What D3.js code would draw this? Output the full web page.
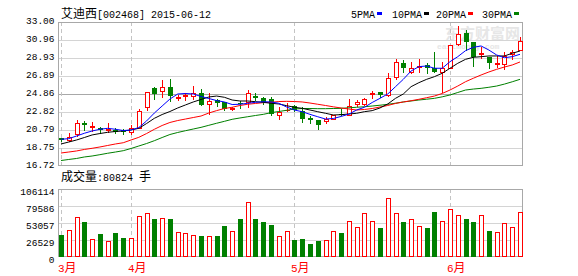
<!DOCTYPE html>
<html>
<head>
<meta charset="utf-8">
<script src="https://cdn.jsdelivr.net/npm/d3@7"></script>
<style>
  body { margin: 0; background: #fff; }
  svg text { font-family: "Liberation Mono", "DejaVu Sans Mono", monospace; }
  .cjk { font-family: "Noto Sans CJK SC", sans-serif; }
</style>
</head>
<body>
<div id="chart"></div>
<script>
// daily candles, 2015-03-19 .. 2015-06-12
var opens  = [19.85,19.66,20.30,21.62,21.10,20.98,20.75,20.84,20.79,20.53,21.05,23.36,25.50,25.20,25.62,24.40,24.60,24.67,25.00,23.70,24.22,23.92,23.17,23.85,23.90,24.67,24.37,24.30,22.49,23.00,23.50,22.94,22.20,21.92,21.84,22.07,22.60,22.49,23.75,23.73,24.90,25.10,24.75,26.75,28.33,27.31,27.90,28.14,27.77,27.31,27.83,30.48,31.72,30.74,29.35,29.08,28.28,28.22,29.38,29.83];
var highs  = [19.90,20.42,21.89,21.77,21.69,21.16,21.55,21.00,20.90,21.36,23.13,25.10,25.68,26.44,26.56,24.75,24.95,25.80,25.42,24.94,24.30,24.00,23.39,24.07,25.30,24.97,24.55,24.50,23.40,23.80,23.60,23.42,22.37,21.92,22.30,22.50,23.20,24.26,24.20,24.40,25.23,25.10,27.20,28.82,28.70,28.51,28.78,28.33,29.64,28.50,30.45,32.55,32.10,30.74,30.21,29.08,29.19,29.64,29.83,31.34];
var lows   = [19.50,19.55,20.15,20.79,20.71,20.42,20.53,20.40,20.30,20.30,20.98,23.05,24.33,24.55,24.10,24.15,24.20,24.26,23.65,22.63,23.50,23.05,23.02,23.31,23.40,24.18,23.70,22.50,22.00,22.90,22.95,21.73,21.62,20.94,21.55,22.05,22.45,22.45,23.50,23.60,24.37,24.55,24.67,26.52,27.35,27.20,27.38,27.27,27.30,25.12,27.75,30.40,29.83,28.06,28.90,27.77,27.91,27.69,28.78,29.83];
var closes = [19.62,20.03,21.55,21.36,21.20,20.76,20.85,20.54,20.57,20.98,22.94,25.05,24.83,25.68,24.60,24.50,24.70,24.97,23.65,24.03,23.81,23.20,23.27,23.80,24.95,24.37,23.92,22.65,22.86,23.10,23.05,22.07,21.89,21.32,22.07,22.49,22.55,23.54,23.92,24.29,25.00,24.80,26.63,28.44,27.83,27.76,28.00,27.77,27.31,27.77,30.40,31.61,30.77,29.08,29.45,28.33,28.38,29.19,29.64,30.82];
var volumes = [34500,42340,62200,54890,27700,36070,24570,37640,29800,29270,63770,68480,59590,60640,59590,39730,37110,33980,32930,32410,32930,48610,40250,59590,85730,59590,54890,50180,32410,40250,26660,28230,20390,25090,26140,40250,37640,55930,46520,68480,55930,45480,92000,68480,54890,59070,48090,45480,70570,55930,74750,65340,59590,54890,65340,40770,38680,52800,46520,70050];
var lastVolume = 80824;

// moving averages as shown on the chart
var ma5  = [19.74,19.81,20.11,20.42,20.68,20.87,20.98,20.87,20.73,20.79,21.07,21.81,22.71,23.50,24.29,24.86,24.92,24.86,24.58,24.35,24.12,23.96,23.67,23.70,23.81,23.92,23.99,23.96,23.81,23.39,23.05,22.86,22.56,22.29,22.03,22.09,22.32,22.58,23.05,23.36,23.90,24.37,24.86,25.69,26.52,27.46,27.95,28.03,27.77,27.77,28.51,29.08,29.76,30.14,30.29,29.83,29.27,28.96,29.08,29.35];
var ma10 = [19.21,19.43,19.66,19.94,20.23,20.39,20.53,20.62,20.68,20.79,20.98,21.52,22.11,22.54,22.88,23.28,23.62,23.96,24.24,24.52,24.63,24.49,24.18,24.07,24.07,23.99,23.92,23.81,23.73,23.54,23.36,23.24,23.05,22.86,22.68,22.49,22.52,22.60,22.68,22.86,22.98,23.28,23.73,24.37,24.86,25.69,26.14,26.52,26.82,27.20,27.77,28.33,28.78,29.01,29.08,29.16,29.16,29.16,29.46,29.72];
var ma20 = [18.19,18.30,18.42,18.59,18.72,18.87,19.04,19.21,19.35,19.66,19.96,20.39,20.87,21.30,21.64,21.86,22.03,22.20,22.37,22.71,22.98,23.22,23.36,23.56,23.70,23.79,23.88,23.92,24.01,24.03,24.01,23.96,23.84,23.70,23.56,23.41,23.28,23.16,23.05,23.11,23.22,23.39,23.56,23.79,23.96,24.10,24.26,24.44,24.63,24.92,25.31,25.76,26.25,26.64,27.01,27.35,27.65,27.91,28.14,28.48];
var ma30 = [17.34,17.46,17.57,17.74,17.85,18.00,18.16,18.30,18.45,18.70,18.98,19.26,19.58,19.94,20.28,20.51,20.71,20.90,21.09,21.32,21.55,21.77,22.00,22.15,22.29,22.43,22.56,22.75,22.88,23.02,23.16,23.22,23.22,23.20,23.20,23.22,23.24,23.30,23.36,23.42,23.50,23.59,23.69,23.82,23.96,24.07,24.18,24.27,24.37,24.54,24.75,25.03,25.31,25.42,25.50,25.62,25.76,25.98,26.24,26.52];

var priceTicks = [33.00, 30.96, 28.93, 26.89, 24.86, 22.82, 20.79, 18.75, 16.72];
var volTicks = [106114, 79586, 53057, 26529, 0];
var monthNames = ["3", "4", "5", "6"];
var monthStarts = [0, 9, 30, 50];
var maNames = ["5PMA", "10PMA", "20PMA", "30PMA"];
var maColors = ["#0000ff", "#000000", "#ff0000", "#008000"];

var W = 578, H = 276;
var left = 58.5, right = 522.5;
var up = "#ff0000", down = "#008000";

var svg = d3.select("#chart").append("svg")
  .attr("width", W)
  .attr("height", H);

var x = d3.scalePoint().domain(d3.range(closes.length)).range([61, 520]);
var y = d3.scaleLinear().domain([16.72, 33.00]).range([166, 22]);
var yv = d3.scaleLinear().domain([0, 106114]).range([257, 189]);

// watermark
svg.append("text").attr("class", "cjk")
  .attr("x", 445).attr("y", 39)
  .style("font-size", "15px").style("font-weight", "bold")
  .attr("fill", "#e6e6e6")
  .text("东方财富网");
svg.append("text")
  .attr("x", 437).attr("y", 49)
  .style("font-size", "8px").style("font-weight", "bold")
  .attr("fill", "#e6e6e6")
  .text("eastmoney.com");

// grid lines
svg.append("g").selectAll("line")
  .data(priceTicks.slice(1, -1))
  .enter().append("line")
  .attr("x1", left).attr("x2", right)
  .attr("y1", function (d) { return Math.round(y(d)) + 0.5; })
  .attr("y2", function (d) { return Math.round(y(d)) + 0.5; })
  .attr("stroke", function (d, i) { return i == 3 ? "#a8a8a8" : "#d4d4d4"; });

svg.append("g").selectAll("line")
  .data(volTicks.slice(1, -1))
  .enter().append("line")
  .attr("x1", left).attr("x2", right)
  .attr("y1", function (d) { return Math.round(yv(d)) + 0.5; })
  .attr("y2", function (d) { return Math.round(yv(d)) + 0.5; })
  .attr("stroke", "#d4d4d4");

// month separators
monthStarts.forEach(function (m) {
  var mx = Math.round(x(m)) + 0.5;
  [[22, 166], [189, 257]].forEach(function (r) {
    svg.append("line")
      .attr("x1", mx).attr("x2", mx)
      .attr("y1", r[0]).attr("y2", r[1])
      .attr("stroke", "#c4c4c4")
      .style("stroke-dasharray", "4,3");
  });
});

// frames
svg.append("rect")
  .attr("x", left).attr("y", 22.5)
  .attr("width", right - left).attr("height", 143)
  .attr("fill", "none").attr("stroke", "#a8a8a8");
svg.append("rect")
  .attr("x", left).attr("y", 189.5)
  .attr("width", right - left).attr("height", 67)
  .attr("fill", "none").attr("stroke", "#a8a8a8");

// axes labels
var yAxis = svg.append("g")
  .attr("transform", "translate(" + left + ",0)")
  .call(d3.axisLeft(y).tickValues(priceTicks).tickFormat(d3.format(".2f")).tickSize(0).tickPadding(4));
var vAxis = svg.append("g")
  .attr("transform", "translate(" + left + ",0)")
  .call(d3.axisLeft(yv).tickValues(volTicks).tickFormat(d3.format("d")).tickSize(0).tickPadding(4));
[yAxis, vAxis].forEach(function (a) {
  a.select(".domain").remove();
  a.selectAll("text")
    .style("font-family", "'Liberation Mono', monospace")
    .style("font-size", "9.5px")
    .attr("fill", "#000");
});
yAxis.selectAll("text").attr("dy", "0.2em");
vAxis.selectAll("text").attr("dy", "0.62em");

// candles
var idx = d3.range(closes.length);
var candles = svg.append("g");
idx.forEach(function (i) {
  var cx = Math.round(x(i));
  var isUp = closes[i] > opens[i];
  var col = isUp ? up : down;
  var top = Math.round(y(Math.max(opens[i], closes[i])));
  var bot = Math.round(y(Math.min(opens[i], closes[i])));
  candles.append("line")
    .attr("x1", cx + 0.5).attr("x2", cx + 0.5)
    .attr("y1", Math.round(y(highs[i]))).attr("y2", Math.round(y(lows[i])) + 1)
    .attr("stroke", col);
  if (isUp) {
    if (bot - top < 1) {
      candles.append("line")
        .attr("x1", cx - 2).attr("x2", cx + 3)
        .attr("y1", top + 0.5).attr("y2", top + 0.5)
        .attr("stroke", col);
    } else {
      candles.append("rect")
        .attr("x", cx - 1.5).attr("y", top + 0.5)
        .attr("width", 4).attr("height", bot - top)
        .attr("fill", "#fff").attr("stroke", col);
    }
  } else {
    candles.append("rect")
      .attr("x", cx - 2).attr("y", top)
      .attr("width", 5).attr("height", Math.max(1, bot - top))
      .attr("fill", col);
  }
});

// moving average lines
var line = d3.line()
  .x(function (d, i) { return x(i); })
  .y(function (d) { return y(d); });
[ma30, ma20, ma10, ma5].forEach(function (s, k) {
  svg.append("path")
    .datum(s)
    .attr("d", line)
    .attr("fill", "none")
    .attr("stroke", maColors[3 - k])
    .attr("stroke-width", 1);
});

// volume bars
var vb = svg.append("g");
idx.forEach(function (i) {
  var cx = Math.round(x(i));
  var vy = Math.round(yv(volumes[i]));
  if (closes[i] > opens[i]) {
    vb.append("rect")
      .attr("x", cx - 1.5).attr("y", vy + 0.5)
      .attr("width", 4).attr("height", 256 - vy)
      .attr("fill", "#fff").attr("stroke", up);
  } else {
    vb.append("rect")
      .attr("x", cx - 2).attr("y", vy)
      .attr("width", 5).attr("height", 257 - vy)
      .attr("fill", down);
  }
});

// title
var title = svg.append("text").attr("x", 61).attr("y", 18).attr("fill", "#000");
title.append("tspan").attr("class", "cjk").style("font-size", "12px").text("艾迪西");
title.append("tspan").style("font-size", "10px").text("[002468] 2015-06-12");

// legend
var legX = [351, 392, 436, 482];
maNames.forEach(function (n, k) {
  svg.append("text")
    .attr("x", legX[k]).attr("y", 18)
    .style("font-size", "10px")
    .attr("fill", "#000")
    .text(n);
  svg.append("rect")
    .attr("x", legX[k] + n.length * 6 + 2).attr("y", 12)
    .attr("width", 5).attr("height", 3)
    .attr("fill", maColors[k]);
});

// volume caption
var vt = svg.append("text").attr("x", 61).attr("y", 181).attr("fill", "#000");
vt.append("tspan").attr("class", "cjk").style("font-size", "12px").text("成交量");
vt.append("tspan").style("font-size", "10px").text(":" + lastVolume + " ");
vt.append("tspan").attr("class", "cjk").style("font-size", "12px").text("手");

// month labels
monthStarts.forEach(function (m, k) {
  var t = svg.append("text")
    .attr("x", Math.round(x(m)) - 3).attr("y", 272)
    .attr("fill", "#ff0000");
  t.append("tspan").style("font-size", "11px").text(monthNames[k]);
  t.append("tspan").attr("class", "cjk").style("font-size", "12px").text("月");
});
</script>
</body>
</html>
